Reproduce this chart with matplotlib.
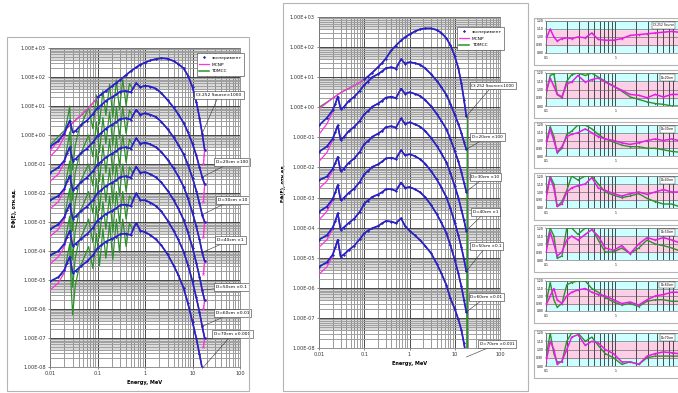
import numpy as np
import matplotlib
matplotlib.use("Agg")
import matplotlib.pyplot as plt
from matplotlib.patches import Rectangle
from matplotlib.lines import Line2D
from matplotlib.ticker import FuncFormatter, LogLocator, NullFormatter, FixedLocator

# energy grid of the spectra, MeV
energy = [0.01, 0.015, 0.02, 0.023, 0.026, 0.03, 0.035, 0.045, 0.06, 0.08,
          0.1, 0.12, 0.15, 0.2, 0.25, 0.3, 0.4, 0.5, 0.65, 0.8,
          1.0, 1.3, 1.7, 2.2, 3, 4, 5, 6.5, 8, 10,
          12, 14, 16, 18]

curve_labels = ["Cf-252 Source×1000", "D=20cm ×100", "D=30cm ×10", "D=40cm ×1",
                "D=50cm ×0.1", "D=60cm ×0.01", "D=70cm ×0.001"]

# ---- left chart, log10 of spectrum (experiment) ----
left_exp = [
    [-0.35, -0.05, 0.15, 0.25, 0.33, 0.42, 0.52, 0.68, 0.88, 1.1,
     1.3, 1.4, 1.52, 1.68, 1.8, 1.9, 2.07, 2.2, 2.33, 2.43,
     2.5, 2.57, 2.62, 2.65, 2.63, 2.55, 2.45, 2.3, 2.05, 1.65,
     1.15, 0.6, 0.05, -0.5],
    [-0.4, -0.2, 0.05, 0.3, 0.5, 0.1, 0.15, 0.35, 0.5, 0.72,
     0.93, 1.03, 1.18, 1.3, 1.4, 1.5, 1.52, 1.47, 1.79, 1.65,
     1.7, 1.67, 1.6, 1.45, 1.2, 0.95, 0.72, 0.42, 0.1, -0.3,
     -0.7, -1.1, -1.45, -1.7],
    [-1.3, -1.12, -0.88, -0.62, -0.42, -0.88, -0.82, -0.62, -0.47, -0.25,
     -0.03, 0.07, 0.22, 0.35, 0.45, 0.55, 0.58, 0.53, 0.87, 0.7,
     0.75, 0.7, 0.62, 0.46, 0.2, -0.08, -0.33, -0.66, -1.02, -1.48,
     -1.92, -2.35, -2.75, -3.0],
    [-2.25, -2.1, -1.85, -1.6, -1.4, -1.9, -1.82, -1.62, -1.47, -1.25,
     -1.02, -0.92, -0.77, -0.65, -0.55, -0.45, -0.42, -0.47, -0.11, -0.3,
     -0.26, -0.32, -0.42, -0.58, -0.85, -1.15, -1.42, -1.78, -2.18, -2.68,
     -3.15, -3.6, -4.05, -4.35],
    [-3.25, -3.08, -2.83, -2.58, -2.38, -2.88, -2.8, -2.62, -2.47, -2.25,
     -2.0, -1.9, -1.76, -1.65, -1.55, -1.45, -1.42, -1.48, -1.09, -1.3,
     -1.28, -1.35, -1.46, -1.63, -1.92, -2.24, -2.53, -2.92, -3.35, -3.88,
     -4.4, -4.88, -5.35, -5.7],
    [-4.15, -4.0, -3.75, -3.5, -3.3, -3.82, -3.75, -3.58, -3.42, -3.2,
     -2.95, -2.85, -2.72, -2.62, -2.52, -2.42, -2.4, -2.45, -2.01, -2.25,
     -2.25, -2.33, -2.45, -2.63, -2.95, -3.3, -3.6, -4.02, -4.48, -5.05,
     -5.6, -6.1, -6.6, -7.0],
    [-5.05, -4.9, -4.65, -4.4, -4.2, -4.75, -4.68, -4.52, -4.36, -4.15,
     -3.9, -3.8, -3.68, -3.58, -3.5, -3.42, -3.4, -3.45, -3.03, -3.3,
     -3.35, -3.45, -3.6, -3.8, -4.12, -4.5, -4.82, -5.28, -5.8, -6.45,
     -7.0, -7.55, -8.05, -8.5],
]
# MCNP at the three lowest energies (elsewhere on top of experiment)
left_mcnp_low = [[-0.55, -0.2, 0.1], [-0.75, -0.45, -0.05], [-1.6, -1.35, -0.95],
                 [-2.55, -2.3, -1.9], [-3.5, -3.25, -2.9], [-4.45, -4.2, -3.85],
                 [-5.35, -5.1, -4.75]]
mcnp_tail_energy = 17.0
left_mcnp_tail = [-1.0, -2.3, -3.5, -4.8, -6.0, -7.3, -8.6]
# TDMCC oscillations in the resonance region
osc_energy = [0.02, 0.024, 0.026, 0.028, 0.03, 0.034, 0.04, 0.05, 0.065, 0.08,
              0.095, 0.11, 0.13, 0.15, 0.18, 0.21, 0.25, 0.29, 0.34, 0.4,
              0.47, 0.55]
left_tdmcc_osc = [
    None,
    [0.05, 0.67, 1.0, -0.3, -1.2, -0.36, 0.15, 0.5, 0.95, 0.22,
     1.38, 0.38, 1.53, 0.68, 1.75, 0.62, 1.9, 0.88, 1.91, 1.02, 1.78, 1.58],
    [-0.9, -0.25, 0.1, -1.3, -2.25, -1.3, -0.8, -0.45, 0.0, -0.75,
     0.45, -0.6, 0.6, -0.3, 0.8, -0.35, 0.95, -0.1, 0.95, 0.05, 0.85, 0.65],
    [-1.87, -1.2, -0.9, -2.3, -3.3, -2.3, -1.75, -1.4, -1.0, -1.75,
     -0.5, -1.6, -0.35, -1.3, -0.15, -1.35, -0.05, -1.1, 0.0, -0.95, -0.15, -0.35],
    [-2.85, -2.15, -1.85, -3.3, -4.3, -3.3, -2.75, -2.4, -1.95, -2.7,
     -1.5, -2.6, -1.35, -2.3, -1.15, -2.35, -1.0, -2.1, -1.0, -1.95, -1.1, -1.3],
    [-3.8, -3.1, -2.8, -4.3, -5.25, -4.25, -3.7, -3.35, -2.9, -3.7,
     -2.45, -3.55, -2.3, -3.25, -2.1, -3.35, -1.95, -3.05, -1.95, -2.9, -2.1, -2.25],
    [-4.75, -4.05, -3.75, -5.3, -6.2, -5.2, -4.65, -4.3, -3.85, -4.6,
     -3.4, -4.5, -3.25, -4.25, -3.05, -4.3, -2.9, -4.05, -2.9, -3.85, -3.05, -3.25],
]

# ---- right chart ----
right_exp = [
    [0.0, 0.17, 0.3, 0.36, 0.42, 0.48, 0.54, 0.62, 0.72, 0.83,
     0.93, 1.02, 1.15, 1.33, 1.48, 1.62, 1.9, 2.05, 2.22, 2.33,
     2.42, 2.52, 2.59, 2.62, 2.62, 2.57, 2.48, 2.3, 2.07, 1.7,
     1.3, 0.8, 0.25, -0.3],
    [-0.6, -0.35, -0.1, 0.12, 0.35, -0.05, 0.0, 0.2, 0.35, 0.55,
     0.75, 0.85, 1.0, 1.1, 1.2, 1.3, 1.33, 1.28, 1.6, 1.45,
     1.5, 1.47, 1.42, 1.3, 1.1, 0.88, 0.68, 0.42, 0.12, -0.25,
     -0.55, -0.85, -1.15, -1.4],
    [-1.48, -1.3, -1.05, -0.82, -0.6, -1.08, -1.0, -0.8, -0.65, -0.45,
     -0.23, -0.13, 0.02, 0.12, 0.22, 0.32, 0.35, 0.3, 0.62, 0.45,
     0.5, 0.45, 0.38, 0.25, 0.03, -0.22, -0.44, -0.72, -1.05, -1.45,
     -1.8, -2.15, -2.5, -2.8],
    [-2.42, -2.3, -2.05, -1.85, -1.65, -2.12, -2.05, -1.85, -1.7, -1.48,
     -1.22, -1.13, -0.98, -0.88, -0.78, -0.66, -0.63, -0.68, -0.37, -0.55,
     -0.5, -0.56, -0.64, -0.78, -1.02, -1.28, -1.52, -1.82, -2.18, -2.62,
     -3.0, -3.4, -3.75, -4.1],
    [-3.47, -3.3, -3.05, -2.82, -2.58, -3.08, -3.02, -2.85, -2.7, -2.48,
     -2.22, -2.12, -1.98, -1.9, -1.8, -1.7, -1.68, -1.72, -1.42, -1.6,
     -1.56, -1.62, -1.72, -1.87, -2.12, -2.4, -2.65, -2.98, -3.36, -3.83,
     -4.25, -4.65, -5.05, -5.45],
    [-4.4, -4.25, -4.0, -3.78, -3.52, -4.07, -4.0, -3.85, -3.7, -3.47,
     -3.2, -3.1, -2.98, -2.9, -2.82, -2.72, -2.72, -2.78, -2.5, -2.68,
     -2.65, -2.72, -2.82, -2.98, -3.25, -3.55, -3.82, -4.17, -4.58, -5.07,
     -5.52, -5.95, -6.4, -6.8],
    [-5.3, -5.15, -4.9, -4.65, -4.4, -4.96, -4.9, -4.75, -4.6, -4.38,
     -4.19, -4.1, -4.02, -3.95, -3.85, -3.78, -3.8, -3.85, -3.69, -3.95,
     -4.1, -4.25, -4.41, -4.6, -4.85, -5.2, -5.5, -5.9, -6.35, -6.7,
     -7.05, -7.4, -7.85, -8.3],
]
right_mcnp_low = [[-0.05, 0.15, 0.3], [-0.9, -0.55, -0.15], [-1.8, -1.5, -1.1],
                  [-2.7, -2.45, -2.1], [-3.75, -3.45, -3.1], [-4.65, -4.4, -4.05],
                  [-5.55, -5.3, -4.95]]
tdmcc_cut_energy = 19.0   # TDMCC drops to zero here (right chart)
exp_source_start = 0.09   # experiment for the source starts here

# ---- ratio panels ----
ratio_energy = [0.10, 0.115, 0.13, 0.145, 0.17, 0.2, 0.235, 0.29, 0.37, 0.46,
                0.57, 0.72, 0.95, 1.25, 1.65, 2.2, 2.9, 3.8, 5.0, 6.6, 8.3]
ratio_mcnp = [
    [0.97, 1.1, 1.0, 0.95, 0.98, 0.99, 0.98, 1.0, 0.99, 1.05, 0.97, 0.96, 0.96, 0.98, 1.02, 1.03, 1.04, 1.05, 1.06, 1.07, 1.06],
    [0.976, 1.136, 1.04, 0.944, 0.91, 1.07, 1.09, 1.17, 1.09, 1.12, 1.14, 1.09, 1.04, 0.99, 0.94, 0.93, 0.9, 0.94, 0.91, 0.94, 0.94],
    [0.95, 1.15, 1.0, 0.85, 0.92, 1.05, 1.08, 1.1, 1.15, 1.1, 1.05, 1.02, 1.0, 0.97, 0.95, 0.97, 1.0, 1.02, 1.0, 1.02, 1.0],
    [0.92, 1.18, 1.05, 0.82, 0.85, 1.0, 1.05, 1.08, 1.1, 1.18, 1.05, 1.02, 0.98, 0.95, 0.98, 1.0, 0.97, 1.0, 1.03, 1.0, 1.0],
    [0.9, 1.15, 1.0, 0.85, 0.9, 1.05, 1.1, 1.05, 1.12, 1.18, 1.1, 0.95, 0.92, 0.98, 0.88, 1.0, 1.08, 1.05, 1.08, 1.05, 1.02],
    [0.88, 1.0, 1.1, 0.95, 0.9, 1.0, 1.05, 1.08, 1.1, 1.05, 1.02, 1.0, 0.95, 0.9, 0.92, 0.88, 0.95, 1.0, 1.02, 1.05, 1.05],
    [0.85, 1.1, 1.0, 0.82, 0.86, 1.0, 1.15, 1.18, 1.05, 1.1, 1.08, 1.0, 0.95, 0.85, 0.85, 0.82, 0.92, 0.95, 0.97, 0.96, 0.95],
]
ratio_tdmcc = [
    None,
    [0.94, 1.17, 1.19, 0.94, 0.9, 1.1, 1.18, 1.2, 1.17, 1.2, 1.15, 1.1, 1.04, 0.98, 0.91, 0.88, 0.85, 0.83, 0.82, 0.8, 0.8],
    [0.95, 1.18, 1.05, 0.84, 0.9, 1.08, 1.12, 1.2, 1.2, 1.15, 1.08, 1.02, 0.98, 0.94, 0.92, 0.92, 0.9, 0.9, 0.88, 0.86, 0.85],
    [0.95, 1.2, 1.1, 0.82, 0.88, 1.02, 1.2, 1.15, 1.2, 1.2, 1.1, 1.0, 0.96, 0.93, 0.95, 0.98, 0.92, 0.88, 0.85, 0.85, 0.82],
    [0.95, 1.2, 1.1, 0.82, 0.85, 1.2, 1.2, 1.12, 1.2, 1.2, 1.05, 0.9, 0.9, 0.95, 0.88, 0.95, 1.05, 1.0, 0.98, 0.95, 0.92],
    [0.9, 1.18, 0.95, 0.85, 0.9, 1.15, 1.18, 1.2, 1.2, 1.1, 1.05, 0.98, 0.92, 0.88, 0.9, 0.86, 0.93, 0.95, 0.95, 0.93, 0.93],
    [0.9, 1.2, 0.95, 0.85, 0.85, 1.1, 1.2, 1.2, 1.1, 1.15, 1.05, 0.95, 0.9, 0.82, 0.85, 0.82, 0.9, 0.92, 0.92, 0.92, 0.92],
]
ratio_ticks = [0.8, 0.9, 1.0, 1.1, 1.2]
ratio_box_labels = ["Cf-252 Source", "D=20cm", "D=30cm", "D=40cm", "D=50cm", "D=60cm", "D=70cm"]

y_decades = [10.0 ** k for k in range(-8, 4)]
x_decades = [0.01, 0.1, 1, 10, 100]

BLUE = "#2323c8"
PINK = "#ff33dd"
GREEN = "#2f8f2f"

W, H = 678, 393
fig = plt.figure(figsize=(W / 100, H / 100), dpi=100, facecolor="white")


def rect(x0, y0, x1, y1):
    # pixel box (top-left origin) -> figure fraction [l, b, w, h]
    return [x0 / W, 1 - y1 / H, (x1 - x0) / W, (y1 - y0) / H]


def frame(x0, y0, x1, y1):
    l, b, w, h = rect(x0, y0, x1, y1)
    fig.patches.append(Rectangle((l, b), w, h, transform=fig.transFigure,
                                 fill=False, ec="#b4b4b4", lw=0.8))


def minor_of(decades):
    return [d * s for d in decades[:-1] for s in range(2, 10)]


def setup_main(ax):
    ax.set_xscale("log")
    ax.set_yscale("log")
    ax.set_xlim(0.01, 100)
    ax.set_ylim(1e-8, 1e3)
    # grey bands from the dense minor gridlines under each decade line
    for d in y_decades[:-1]:
        ax.axhspan(4 * d, 10 * d, color="#dadada", lw=0, zorder=0)
    ax.yaxis.set_major_locator(FixedLocator(y_decades))
    ax.yaxis.set_minor_locator(FixedLocator(minor_of(y_decades)))
    ax.yaxis.set_major_formatter(FuncFormatter(lambda v, p: f"{v:.2E}"))
    ax.yaxis.set_minor_formatter(NullFormatter())
    ax.xaxis.set_major_locator(FixedLocator(x_decades))
    ax.xaxis.set_minor_locator(FixedLocator(minor_of(x_decades)))
    ax.xaxis.set_major_formatter(FuncFormatter(lambda v, p: f"{v:g}"))
    ax.xaxis.set_minor_formatter(NullFormatter())
    ax.grid(which="major", color="#303030", lw=0.6)
    ax.grid(which="minor", axis="y", color="#a0a0a0", lw=0.7)
    ax.grid(which="minor", axis="x", color="#505050", lw=0.4)
    ax.set_axisbelow(True)
    ax.tick_params(which="both", labelsize=3.6, length=1.5, width=0.4, pad=1.5, colors="#333333")
    ax.tick_params(which="minor", length=0)
    for s in ax.spines.values():
        s.set_color("#808080")
        s.set_linewidth(0.6)
    ax.set_xlabel("Energy, MeV", fontsize=3.6, fontweight="bold", labelpad=3)
    ax.set_ylabel("EΦ(E), отн.ед.", fontsize=3.4, fontweight="bold", labelpad=3)


def draw_spectra(ax, exp_curves, mcnp_low, tdmcc_osc=None, mcnp_tail=None, cut=None):
    E = np.array(energy)
    for i, vals in enumerate(exp_curves):
        y = 10 ** np.array(vals)
        # TDMCC
        if tdmcc_osc is not None and tdmcc_osc[i] is not None:
            lo = E < osc_energy[0]
            hi = E > osc_energy[-1]
            gE = np.concatenate([E[lo], osc_energy, E[hi]])
            gY = np.concatenate([y[lo], 10 ** np.array(tdmcc_osc[i]), y[hi]])
        else:
            gE, gY = E, y
        if cut is not None:
            gE = np.append(gE, [cut, cut])
            gY = np.append(gY, [gY[-1], 1e-10])
        ax.plot(gE, gY, color=GREEN, lw=0.9, zorder=3)
        # MCNP
        m = y.copy()
        m[:3] = 10 ** np.array(mcnp_low[i])
        mE = E
        if mcnp_tail is not None:
            mE = np.append(E, mcnp_tail_energy)
            m = np.append(m, 10 ** mcnp_tail[i])
            ax.plot(mE[-3:], m[-3:], color=PINK, lw=0.7, ls="--", marker="x",
                    ms=1.6, mew=0.5, zorder=4)
        ax.plot(mE, m, color=PINK, lw=0.9, zorder=4)
        # experiment
        keep = E >= exp_source_start if i == 0 else np.ones(len(E), bool)
        ax.plot(E[keep], y[keep], color=BLUE, lw=1.2, marker="D", ms=1.5, mew=0, zorder=5)


def callouts(ax, exp_curves, positions, idx, size):
    for i, vals in enumerate(exp_curves):
        ax.annotate(curve_labels[i], xy=(energy[idx], 10 ** vals[idx]), xycoords="data",
                    xytext=positions[i], textcoords="axes fraction",
                    fontsize=size, ha="center", va="center", annotation_clip=False,
                    bbox=dict(boxstyle="square,pad=0.45", fc="white", ec="#333333", lw=0.4),
                    arrowprops=dict(arrowstyle="-", color="#333333", lw=0.4,
                                    shrinkA=0, shrinkB=0), zorder=8)


def legend(ax, anchor):
    handles = [Line2D([], [], color=BLUE, marker="D", ms=1.6, ls="none", mew=0),
               Line2D([], [], color=PINK, lw=0.9),
               Line2D([], [], color=GREEN, lw=1.1)]
    lg = ax.legend(handles, ["эксперимент", "MCNP", "TDMCC"], loc="upper left",
                   bbox_to_anchor=anchor, fontsize=3.2, frameon=True, fancybox=False,
                   handlelength=2.2, borderpad=0.5, labelspacing=0.6, handletextpad=0.6,
                   framealpha=1)
    lg.get_frame().set_edgecolor("#333333")
    lg.get_frame().set_linewidth(0.4)
    lg.set_zorder(9)


# chart area frames
frame(7, 37, 249, 391)
frame(283, 3, 528, 391)
panel_frames = [(18, 65), (70, 118), (122, 168), (173, 220), (225, 272), (278, 323), (330, 378)]
for t, b in panel_frames:
    frame(534, t, 700, b)

# left chart
axL = fig.add_axes(rect(50, 48, 240, 367))
setup_main(axL)
draw_spectra(axL, left_exp, left_mcnp_low, tdmcc_osc=left_tdmcc_osc, mcnp_tail=left_mcnp_tail)
legend(axL, (0.76, 0.99))
callouts(axL, left_exp,
         [(0.89, 0.854), (0.96, 0.643), (0.96, 0.524), (0.95, 0.398),
          (0.955, 0.251), (0.96, 0.169), (0.96, 0.103)], idx=32, size=3.2)

# right chart
axR = fig.add_axes(rect(319, 17, 500, 348))
setup_main(axR)
draw_spectra(axR, right_exp, right_mcnp_low, cut=tdmcc_cut_energy)
legend(axR, (0.75, 0.975))
callouts(axR, right_exp,
         [(0.96, 0.793), (0.93, 0.637), (0.92, 0.517), (0.92, 0.411),
          (0.925, 0.308), (0.925, 0.154), (0.985, 0.012)], idx=33, size=3.0)

# ratio panels
for k, (t, b) in enumerate(panel_frames):
    ax = fig.add_axes(rect(546, t + 3, 705, b - 12))
    ax.set_xscale("log")
    ax.set_xlim(0.1, 20)
    ax.set_ylim(0.8, 1.2)
    ax.axhspan(0.8, 0.9, color="#ccffff", zorder=0)
    ax.axhspan(0.9, 1.1, color="#fccfe6", zorder=0)
    ax.axhspan(1.1, 1.2, color="#ccffff", zorder=0)
    ax.yaxis.set_major_locator(FixedLocator(ratio_ticks))
    ax.yaxis.set_major_formatter(FuncFormatter(lambda v, p: f"{v:.2f}"))
    ax.xaxis.set_major_locator(FixedLocator([0.1, 1]))
    ax.xaxis.set_minor_locator(FixedLocator(minor_of([0.1, 1, 10]) + [10, 20]))
    ax.xaxis.set_major_formatter(FuncFormatter(lambda v, p: f"{v:g}"))
    ax.xaxis.set_minor_formatter(NullFormatter())
    ax.grid(which="both", axis="x", color="#303030", lw=0.6)
    ax.grid(which="major", axis="y", color="#555555", lw=0.4)
    ax.tick_params(which="both", labelsize=2.2, length=1, width=0.3, pad=1)
    ax.tick_params(which="minor", length=0)
    for s in ax.spines.values():
        s.set_color("#808080")
        s.set_linewidth(0.5)
    if ratio_tdmcc[k] is not None:
        ax.plot(ratio_energy, ratio_tdmcc[k], color=GREEN, lw=1.0, marker="o", ms=1.0, mew=0, zorder=3)
    ax.plot(ratio_energy, ratio_mcnp[k], color="#e020e0", lw=1.1, marker="o", ms=1.2, mew=0, zorder=4)
    ax.text(0.805, 0.86, ratio_box_labels[k], transform=ax.transAxes, fontsize=2.2,
            ha="right", va="center", zorder=6,
            bbox=dict(boxstyle="square,pad=0.4", fc="white", ec="#333333", lw=0.3))

fig.savefig("out.png", dpi=100, facecolor="white")
